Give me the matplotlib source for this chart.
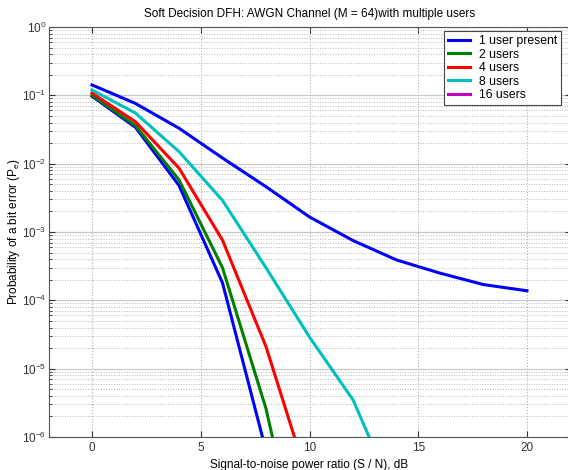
import numpy as np
import matplotlib
matplotlib.use("Agg")
import matplotlib.pyplot as plt
from matplotlib.lines import Line2D
from matplotlib.ticker import LogLocator, FixedLocator, NullFormatter

plt.rcParams['font.family'] = ['Liberation Sans', 'DejaVu Sans']

# SNR values (dB)
snr_1user = [0, 2, 4, 6, 8, 10, 12, 14, 16, 18, 20]
pe_1user = [0.142, 0.076, 0.033, 0.0121, 0.0046, 0.00166, 7.5e-4, 3.9e-4, 2.5e-4, 1.7e-4, 1.38e-4]

snr_low = [0, 2, 4, 6, 8]
pe_low = [0.097, 0.034, 0.0048, 1.8e-4, 6.3e-7]

snr_2users = [0, 2, 4, 6, 8, 10]
pe_2users = [0.100, 0.036, 0.0058, 3.0e-4, 2.6e-6, 4e-9]

snr_4users = [0, 2, 4, 6, 8, 10]
pe_4users = [0.108, 0.041, 0.0086, 7.6e-4, 2.1e-5, 2e-7]

snr_8users = [0, 2, 4, 6, 8, 10, 12, 14]
pe_8users = [0.120, 0.055, 0.015, 0.0029, 3.0e-4, 2.9e-5, 3.5e-6, 1.2e-7]

legend_labels = ["1 user present", "2 users", "4 users", "8 users", "16 users"]
colors = ["#0000ff", "#008000", "#ff0000", "#00bfbf", "#bf00bf"]

W, H = 568, 470
fig = plt.figure(figsize=(W / 100, H / 100), dpi=100)
ax = fig.add_axes([48.5 / W, 1 - 437 / H, 522 / W, (437 - 27) / H])

lw = 2.2
ax.semilogy(snr_1user, pe_1user, color=colors[0], lw=lw, zorder=3)
ax.semilogy(snr_low, pe_low, color=colors[0], lw=lw, zorder=3)
ax.semilogy(snr_2users, pe_2users, color=colors[1], lw=lw, zorder=3)
ax.semilogy(snr_4users, pe_4users, color=colors[2], lw=lw, zorder=3)
ax.semilogy(snr_8users, pe_8users, color=colors[3], lw=lw, zorder=3)

ax.set_xlim(-2, 22)
ax.set_ylim(1e-6, 1)
ax.xaxis.set_major_locator(FixedLocator([0, 5, 10, 15, 20]))
ax.yaxis.set_major_locator(LogLocator(base=10, numticks=10))
ax.yaxis.set_minor_locator(LogLocator(base=10, subs=np.arange(2, 10), numticks=20))
ax.yaxis.set_minor_formatter(NullFormatter())

ax.grid(True, which='major', axis='x', color='#b0b0b0', linestyle=':', lw=0.8)
ax.grid(True, which='major', axis='y', color='#c8c8c8', linestyle='-', lw=0.9)
ax.grid(True, which='minor', axis='y', color='#b8b8b8', linestyle=':', lw=0.7)
ax.set_axisbelow(True)

ax.tick_params(which='both', direction='in', labelsize=8.5, colors='#333333',
               top=True, right=True)
ax.tick_params(which='major', length=4)
ax.tick_params(which='minor', length=2)
ax.tick_params(axis='y', which='major', pad=1.5)
for s in ax.spines.values():
    s.set_color('#555555')
    s.set_linewidth(0.8)

ax.set_title("Soft Decision DFH: AWGN Channel (M = 64)with multiple users", fontsize=8.5, pad=7)
ax.set_xlabel("Signal-to-noise power ratio (S / N), dB", fontsize=8.5, labelpad=4)
ax.set_ylabel("Probability of a bit error (P$_{\\mathregular{e}}$)", fontsize=8.5)
ax.yaxis.label.set_va('center')
ax.yaxis.set_label_coords((14 - 48.5) / 522, 0.5)

handles = [Line2D([], [], color=c, lw=lw) for c in colors]
leg = ax.legend(handles, legend_labels, loc='upper left', bbox_to_anchor=((444 - 48.5) / 522, 1 - 4 / 410),
                fontsize=8.8, frameon=True, fancybox=False, edgecolor='#444444', framealpha=1,
                handlelength=1.8, handletextpad=0.7, labelspacing=0.12, borderpad=0.35,
                borderaxespad=0)
leg.get_frame().set_linewidth(0.8)

fig.savefig("out.png", dpi=100)
